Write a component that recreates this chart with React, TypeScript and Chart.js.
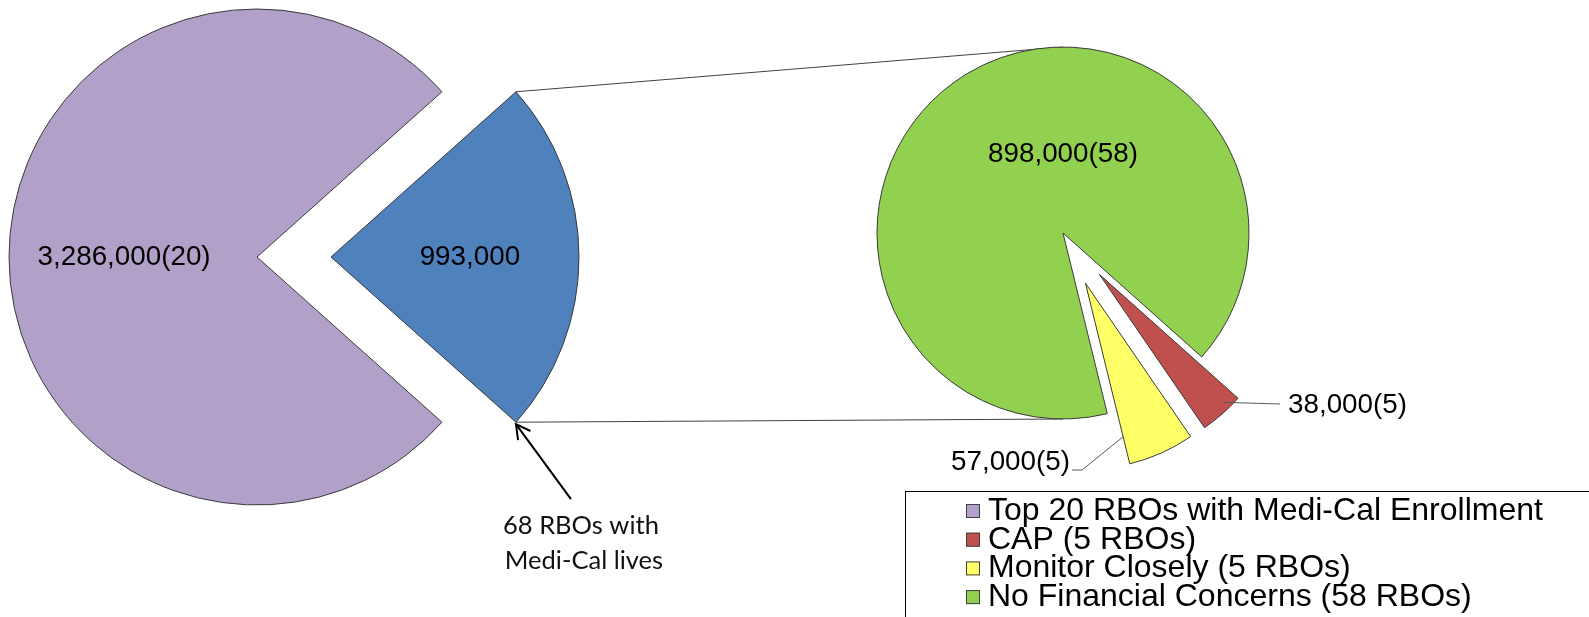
import React, { useEffect, useRef } from "react";
import { Chart, registerables } from "chart.js";

Chart.register(...registerables);

// ---------------- data ----------------
const primaryCategories = ["Top 20 RBOs with Medi-Cal Enrollment", "68 RBOs with Medi-Cal lives"];
const primaryValues = [3286000, 993000];
const primaryCounts: (number | null)[] = [20, null];

const secondaryCategories = ["No Financial Concerns (58 RBOs)", "CAP (5 RBOs)", "Monitor Closely (5 RBOs)"];
const secondaryValues = [898000, 38000, 57000];
const secondaryCounts = [58, 5, 5];

const legendCategories = [
  "Top 20 RBOs with Medi-Cal Enrollment",
  "CAP (5 RBOs)",
  "Monitor Closely (5 RBOs)",
  "No Financial Concerns (58 RBOs)",
];
const calloutText = ["68 RBOs with", "Medi-Cal lives"];

// ---------------- style ----------------
const W = 1589;
const H = 617;
const PURPLE = "#B1A0C7";
const BLUE = "#4F81BD";
const GREEN = "#92D050";
const RED = "#C0504D";
const YELLOW = "#FFFF66";
const primaryColors = [PURPLE, BLUE];
const secondaryColors = [GREEN, RED, YELLOW];
const legendColors = [PURPLE, RED, YELLOW, GREEN];
const EDGE = "#3a3a3a";

const A_CX = 257, A_CY = 257, A_R = 248, A_EXPLODE = 74;
const B_CX = 1063, B_CY = 233, B_R = 186, B_EXPLODE = 55;
const B_GAP_ANGLE = 59; // degrees, direction of the small slices
const LABEL_FONT = "27.8px 'Liberation Sans', Arial, sans-serif";
const LEGEND_FONT = "32px 'Liberation Sans', Arial, sans-serif";
const CALLOUT_FONT = "25.5px Lato, 'Open Sans', sans-serif";

const fmt = (v: number) => v.toLocaleString("en-US");
const sum = (a: number[]) => a.reduce((s, v) => s + v, 0);

// shifts exploded slices outward along their mid angle
const explodePlugin = {
  id: "explodeSlices",
  afterDatasetUpdate(chart: any, args: any) {
    const ds = chart.data.datasets[args.index];
    const ex: number[] = ds.explode || [];
    const meta = chart.getDatasetMeta(args.index);
    meta.data.forEach((arc: any, i: number) => {
      const d = ex[i] || 0;
      if (!d) return;
      const mid = (arc.startAngle + arc.endAngle) / 2;
      arc.x += Math.cos(mid) * d;
      arc.y += Math.sin(mid) * d;
    });
  },
};

const pt = (arc: any, angle: number, r: number): [number, number] => [
  arc.x + Math.cos(angle) * r,
  arc.y + Math.sin(angle) * r,
];

function makeOverlay(chartA: Chart) {
  return {
    id: "pieOfPieOverlay",
    beforeDatasetsDraw(chart: any) {
      const ctx = chart.ctx as CanvasRenderingContext2D;
      const blue: any = chartA.getDatasetMeta(0).data[1];
      const green: any = chart.getDatasetMeta(0).data[0];
      const R = blue.outerRadius;
      const top = pt(blue, blue.startAngle, R);
      const bot = pt(blue, blue.endAngle, R);
      ctx.save();
      ctx.strokeStyle = "#404040";
      ctx.lineWidth = 1;
      ctx.beginPath();
      ctx.moveTo(top[0], top[1]);
      ctx.lineTo(green.x, green.y - green.outerRadius);
      ctx.moveTo(bot[0], bot[1]);
      ctx.lineTo(green.x, green.y + green.outerRadius);
      ctx.stroke();
      ctx.restore();
    },
    afterDraw(chart: any) {
      const ctx = chart.ctx as CanvasRenderingContext2D;
      const aArcs: any[] = chartA.getDatasetMeta(0).data as any;
      const bArcs: any[] = chart.getDatasetMeta(0).data;
      ctx.save();
      ctx.fillStyle = "#000";
      ctx.font = LABEL_FONT;
      ctx.textBaseline = "middle";
      ctx.textAlign = "center";

      // primary pie labels
      aArcs.forEach((arc, i) => {
        const mid = (arc.startAngle + arc.endAngle) / 2;
        const p = pt(arc, mid, arc.outerRadius * (i === 0 ? 0.536 : 0.56));
        const c = primaryCounts[i];
        const txt = c != null ? `${fmt(primaryValues[i])}(${c})` : fmt(primaryValues[i]);
        ctx.fillText(txt, p[0], p[1]);
      });

      // secondary pie labels
      const g = bArcs[0];
      const gp = pt(g, -Math.PI / 2, g.outerRadius * 0.424);
      ctx.fillText(`${fmt(secondaryValues[0])}(${secondaryCounts[0]})`, gp[0], gp[1]);

      const cx = g.x, cy = g.y;
      // CAP label with leader
      const red = bArcs[1];
      const rs = pt(red, (red.startAngle + red.endAngle) / 2 - 0.05, red.outerRadius * 0.96);
      ctx.strokeStyle = "#595959";
      ctx.lineWidth = 1;
      ctx.beginPath();
      ctx.moveTo(rs[0], rs[1]);
      ctx.lineTo(cx + 217, cy + 171);
      ctx.stroke();
      ctx.textAlign = "left";
      ctx.fillText(`${fmt(secondaryValues[1])}(${secondaryCounts[1]})`, cx + 225, cy + 172);

      // Monitor label with leader
      const yel = bArcs[2];
      const ys = pt(yel, yel.endAngle, yel.outerRadius * 0.85);
      ctx.beginPath();
      ctx.moveTo(ys[0], ys[1]);
      ctx.lineTo(cx + 19, cy + 237);
      ctx.lineTo(cx + 9, cy + 237);
      ctx.stroke();
      ctx.textAlign = "right";
      ctx.fillText(`${fmt(secondaryValues[2])}(${secondaryCounts[2]})`, cx + 7, cy + 229);

      // arrow + callout
      const blue = aArcs[1];
      const tip = pt(blue, blue.endAngle, blue.outerRadius);
      const tipY = tip[1] + 2;
      const tail = [tip[0] + 55, tipY + 75];
      const ang = Math.atan2(tipY - tail[1], tip[0] - tail[0]);
      ctx.strokeStyle = "#000";
      ctx.lineWidth = 2;
      ctx.beginPath();
      ctx.moveTo(tail[0], tail[1]);
      ctx.lineTo(tip[0], tipY);
      const hl = 16, ha = 0.5;
      ctx.moveTo(tip[0] - Math.cos(ang - ha) * hl, tipY - Math.sin(ang - ha) * hl);
      ctx.lineTo(tip[0], tipY);
      ctx.lineTo(tip[0] - Math.cos(ang + ha) * hl, tipY - Math.sin(ang + ha) * hl);
      ctx.stroke();
      ctx.font = CALLOUT_FONT;
      ctx.fillStyle = "#111";
      ctx.textAlign = "center";
      ctx.fillText(calloutText[0], tip[0] + 65, tipY + 102);
      ctx.fillText(calloutText[1], tip[0] + 68, tipY + 137);

      // legend
      ctx.strokeStyle = "#000";
      ctx.lineWidth = 1;
      ctx.strokeRect(905.5, 491.5, 800, 300);
      ctx.font = LEGEND_FONT;
      ctx.textAlign = "left";
      ctx.fillStyle = "#000";
      legendCategories.forEach((lab, i) => {
        const y = 510 + i * 28.7;
        ctx.fillStyle = legendColors[i];
        ctx.fillRect(966, y - 6, 14, 14);
        ctx.strokeStyle = "#404040";
        ctx.strokeRect(966.5, y - 5.5, 13, 13);
        ctx.fillStyle = "#000";
        ctx.fillText(lab, 988, y + 1);
      });
      ctx.restore();
    },
  };
}

export default function App() {
  const refA = useRef<HTMLCanvasElement>(null);
  const refB = useRef<HTMLCanvasElement>(null);

  useEffect(() => {
    const totalA = sum(primaryValues);
    const totalB = sum(secondaryValues);
    const chartA = new Chart(refA.current!, {
      type: "pie",
      data: {
        labels: primaryCategories,
        datasets: [
          {
            data: primaryValues,
            backgroundColor: primaryColors,
            borderColor: EDGE,
            borderWidth: 1,
            radius: A_R,
            explode: [0, A_EXPLODE],
            hoverOffset: 0,
          } as any,
        ],
      },
      options: {
        responsive: false,
        animation: false,
        events: [],
        rotation: 90 + (180 * primaryValues[1]) / totalA,
        layout: { padding: { left: 0, top: 0, right: W - 2 * A_CX, bottom: H - 2 * A_CY } },
        plugins: { legend: { display: false }, tooltip: { enabled: false } },
      } as any,
      plugins: [explodePlugin],
    });

    const smallSpan = (360 * (secondaryValues[1] + secondaryValues[2])) / totalB;
    const chartB = new Chart(refB.current!, {
      type: "pie",
      data: {
        labels: secondaryCategories,
        datasets: [
          {
            data: secondaryValues,
            backgroundColor: secondaryColors,
            borderColor: EDGE,
            borderWidth: 1,
            radius: B_R,
            explode: [0, B_EXPLODE, B_EXPLODE],
            hoverOffset: 0,
          } as any,
        ],
      },
      options: {
        responsive: false,
        animation: false,
        events: [],
        rotation: 90 + B_GAP_ANGLE + smallSpan / 2,
        layout: {
          padding: { left: B_CX - B_R, top: B_CY - B_R, right: W - (B_CX + B_R), bottom: H - (B_CY + B_R) },
        },
        plugins: { legend: { display: false }, tooltip: { enabled: false } },
      } as any,
      plugins: [explodePlugin, makeOverlay(chartA)],
    });

    return () => {
      chartB.destroy();
      chartA.destroy();
    };
  }, []);

  const cs: React.CSSProperties = { position: "absolute", left: 0, top: 0, width: W, height: H };
  return (
    <div style={{ position: "fixed", left: 0, top: 0, width: W, height: H, background: "#fff", overflow: "hidden" }}>
      <canvas ref={refA} width={W} height={H} style={cs} />
      <canvas ref={refB} width={W} height={H} style={cs} />
    </div>
  );
}
